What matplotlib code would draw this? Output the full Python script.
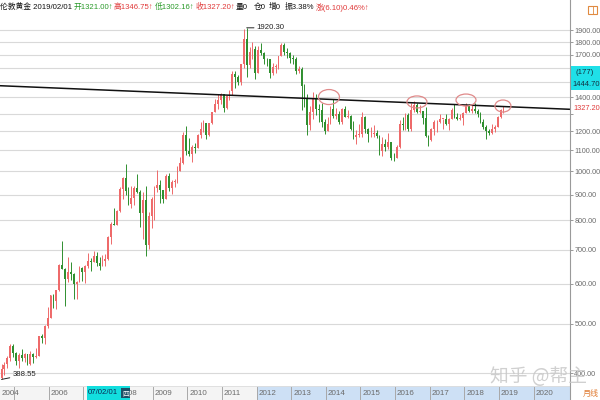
import matplotlib
matplotlib.use("Agg")
import matplotlib.pyplot as plt
from matplotlib.patches import Rectangle, Ellipse
from matplotlib.lines import Line2D
from matplotlib.ticker import NullLocator, FixedLocator, FixedFormatter
import numpy as np

# ---------------- data: London gold monthly candles, 2004-08 .. 2019-02 ----------------
start_year, start_month = 2004, 8

opens = [
    391, 408, 416, 428, 452,
    438, 422, 434, 428, 436, 417, 437, 430, 433, 473, 470, 495,
    513, 569, 556, 582, 654, 643, 613, 632, 626, 599, 604, 646,
    632, 650, 665, 662, 681, 659, 650, 666, 672, 743, 789, 783,
    834, 923, 971, 916, 864, 886, 926, 912, 829, 880, 717, 815,
    882, 928, 942, 917, 883, 979, 927, 954, 955, 1001, 1040, 1182,
    1096, 1081, 1118, 1113, 1180, 1214, 1244, 1181, 1248, 1307, 1357, 1386,
    1421, 1333, 1410, 1439, 1556, 1536, 1500, 1628, 1826, 1620, 1722, 1746,
    1565, 1738, 1710, 1669, 1664, 1561, 1604, 1614, 1687, 1773, 1719, 1714,
    1675, 1664, 1578, 1595, 1472, 1393, 1234, 1312, 1396, 1327, 1323, 1253,
    1202, 1240, 1326, 1284, 1296, 1250, 1327, 1282, 1287, 1210, 1171, 1182,
    1184, 1283, 1213, 1183, 1183, 1190, 1172, 1095, 1132, 1115, 1142, 1065,
    1061, 1118, 1238, 1233, 1293, 1215, 1322, 1351, 1309, 1316, 1277, 1173,
    1152, 1211, 1249, 1249, 1268, 1269, 1242, 1269, 1322, 1280, 1271, 1275,
    1303, 1345, 1318, 1325, 1316, 1299, 1253, 1224, 1201, 1192, 1215, 1222,
    1282, 1321.00,
]
highs = [
    416, 420, 432, 456, 456,
    441, 438, 447, 438, 437, 442, 439, 448, 474, 478, 497, 541,
    570, 573, 584, 655, 730, 644, 678, 663, 630, 607, 650, 648,
    654, 690, 675, 695, 692, 677, 684, 686, 745, 794, 845, 838,
    933, 975, 1033, 930, 936, 937, 988, 917, 912, 935, 833, 889,
    937, 1006, 962, 920, 986, 991, 961, 967, 1025, 1070, 1195, 1227,
    1162, 1127, 1140, 1183, 1249, 1265, 1245, 1248, 1307, 1388, 1424, 1431,
    1424, 1414, 1447, 1576, 1577, 1553, 1632, 1913, 1920.30, 1761, 1803, 1764,
    1764, 1791, 1718, 1677, 1668, 1640, 1627, 1692, 1790, 1796, 1755, 1723,
    1694, 1681, 1617, 1605, 1488, 1424, 1348, 1434, 1424, 1361, 1362, 1267,
    1280, 1345, 1392, 1331, 1315, 1332, 1345, 1323, 1290, 1255, 1208, 1239,
    1307, 1284, 1219, 1224, 1232, 1205, 1180, 1170, 1156, 1191, 1143, 1088,
    1127, 1263, 1283, 1304, 1304, 1362, 1375, 1367, 1352, 1318, 1338, 1180,
    1220, 1264, 1262, 1296, 1270, 1296, 1272, 1331, 1357, 1306, 1299, 1309,
    1366, 1361, 1356, 1365, 1326, 1309, 1266, 1236, 1214, 1243, 1237, 1285,
    1326, 1346.75,
]
lows = [
    388.55, 397, 410, 422, 430,
    415, 410, 423, 421, 414, 414, 418, 428, 432, 458, 456, 490,
    513, 538, 535, 580, 641, 542, 605, 610, 561, 560, 604, 609,
    603, 645, 636, 661, 651, 638, 650, 650, 668, 720, 782, 782,
    832, 882, 900, 860, 848, 860, 908, 775, 735, 681, 702, 772,
    801, 910, 866, 865, 882, 913, 904, 931, 950, 1000, 1035, 1076,
    1074, 1044, 1086, 1111, 1164, 1195, 1157, 1177, 1240, 1307, 1330, 1361,
    1309, 1328, 1381, 1418, 1462, 1478, 1480, 1600, 1535, 1600, 1670, 1523,
    1563, 1696, 1627, 1614, 1527, 1550, 1564, 1590, 1687, 1697, 1673, 1635,
    1626, 1555, 1562, 1321, 1338, 1180, 1207, 1271, 1291, 1251, 1221, 1187,
    1200, 1238, 1277, 1268, 1240, 1240, 1281, 1273, 1206, 1161, 1131, 1170,
    1167, 1191, 1142, 1170, 1170, 1162, 1077, 1072, 1098, 1107, 1052, 1046,
    1061, 1111, 1208, 1206, 1200, 1199, 1310, 1301, 1303, 1241, 1171, 1123,
    1146, 1180, 1195, 1244, 1214, 1237, 1205, 1266, 1272, 1261, 1264, 1236,
    1302, 1307, 1303, 1302, 1282, 1245, 1211, 1160, 1180, 1183, 1196, 1221,
    1275, 1302.16,
]
closes = [
    408, 415, 428, 452, 438,
    422, 434, 428, 436, 417, 437, 430, 433, 473, 470, 495, 513,
    569, 556, 582, 654, 643, 613, 632, 626, 599, 604, 646, 632,
    650, 665, 662, 681, 659, 650, 666, 672, 743, 789, 783, 834,
    923, 971, 916, 864, 886, 926, 912, 829, 880, 717, 815, 882,
    928, 942, 917, 883, 979, 927, 954, 955, 1001, 1040, 1182, 1096,
    1081, 1118, 1113, 1180, 1214, 1244, 1181, 1248, 1307, 1357, 1386, 1421,
    1333, 1410, 1439, 1556, 1536, 1500, 1628, 1826, 1620, 1722, 1746, 1565,
    1738, 1710, 1669, 1664, 1561, 1604, 1614, 1687, 1773, 1719, 1714, 1675,
    1664, 1578, 1595, 1472, 1393, 1234, 1312, 1396, 1327, 1323, 1253, 1202,
    1240, 1326, 1284, 1296, 1250, 1327, 1282, 1287, 1210, 1171, 1182, 1184,
    1283, 1213, 1183, 1183, 1190, 1172, 1095, 1132, 1115, 1142, 1065, 1061,
    1118, 1238, 1233, 1293, 1215, 1322, 1351, 1309, 1316, 1277, 1173, 1152,
    1211, 1249, 1249, 1268, 1269, 1242, 1269, 1322, 1280, 1271, 1275, 1303,
    1345, 1318, 1325, 1316, 1299, 1253, 1224, 1201, 1192, 1215, 1222, 1282,
    1321, 1327.20,
]

price_levels = [400, 500, 600, 700, 800, 900, 1000, 1100, 1200, 1300,
                1400, 1500, 1600, 1700, 1800, 1900]
hidden_levels = [1300, 1500, 1600]   # covered by the right-side price boxes
year_labels = ["2004", "2006", "2008", "2009", "2010", "2011", "2012",
               "2013", "2014", "2015", "2016", "2017", "2018", "2019", "2020"]
separator_years = list(range(2005, 2021))

# trend line (month index, price) and touch circles
trend_months = [-0.52, 197.05]
trend_prices = [1476, 1326]
circle_months = [113.5, 144.0, 161.0, 173.8]
circle_prices = [1402, 1371, 1383, 1346]

title_parts = [
    ("伦敦黄金 2019/02/01", "#111111"),
    ("开1321.00↑", "#2a9a2a"),
    ("高1346.75↑", "#e03a3a"),
    ("低1302.16↑", "#2a9a2a"),
    ("收1327.20↑", "#e03a3a"),
    ("量0", "#111111"),
    ("仓0", "#111111"),
    ("增0", "#111111"),
    ("振3.38%", "#111111"),
    ("涨(6.10)0.46%↑", "#e03a3a"),
]
title_x = [0, 74, 114, 155, 196, 236, 254, 269, 285, 316]

# ---------------- figure ----------------
W, H = 600, 400
FONT = ["Liberation Sans", "Noto Sans CJK SC", "DejaVu Sans"]
CJK = ["Noto Sans CJK SC", "DejaVu Sans"]
RED = "#ee6a6a"
GREEN = "#2f8f2f"

def fx(x):
    return x / W

def fy(y):
    return 1 - y / H

fig = plt.figure(figsize=(6, 4), dpi=100)
fig.patch.set_facecolor("white")

ax = fig.add_axes([0, fy(385), fx(570), (385 - 17) / H])
ax.set_yscale("log")
ax.set_xlim(-0.52, 197.05)
ax.set_ylim(378.8, 2017)
for s in ax.spines.values():
    s.set_visible(False)
ax.set_xticks([])
ax.yaxis.tick_right()
ax.yaxis.set_major_locator(FixedLocator(price_levels))
ax.yaxis.set_major_formatter(FixedFormatter(
    ["" if v in hidden_levels else f"{v:.2f}" for v in price_levels]))
ax.yaxis.set_minor_locator(NullLocator())
ax.tick_params(axis="y", length=2.5, width=0.7, color="#999999", pad=0.6,
               labelsize=5.2, labelcolor="#6a6a6a")
for lab in ax.get_yticklabels():
    lab.set_family(FONT)
ax.yaxis.grid(True, color="#d9d9d9", lw=0.8)
ax.set_axisbelow(True)

o = np.array(opens, dtype=float)
h = np.array(highs, dtype=float)
l = np.array(lows, dtype=float)
c = np.array(closes, dtype=float)
x = np.arange(len(c))
up = c >= o
cols = np.where(up, RED, GREEN)
ax.vlines(x, l, h, colors=cols, lw=0.7, zorder=2)
bottoms = np.minimum(o, c)
heights = np.maximum(np.abs(c - o), bottoms * 0.003)
ax.bar(x, heights, bottom=bottoms, width=0.62, color=cols, linewidth=0, zorder=3)

ax.plot(trend_months, trend_prices, color="#111111", lw=1.1, zorder=4)

def d2a(xd, yd):
    return ax.transAxes.inverted().transform(ax.transData.transform((xd, yd)))

circle_sizes = [(21, 15), (20, 12), (20, 12), (16, 12)]
for cm, cp, (w, hh) in zip(circle_months, circle_prices, circle_sizes):
    cx, cy = d2a(cm, cp)
    ax.add_patch(Ellipse((cx, cy), w / 570, hh / 368, transform=ax.transAxes,
                         fill=False, edgecolor="#e08a8a", lw=0.9, zorder=5))

imax = int(np.argmax(h))
ax.annotate(f"{h[imax]:.2f}", xy=(imax, h[imax]), xytext=(10, 0),
            textcoords="offset pixels", va="center", ha="left", fontsize=5.6,
            family=FONT, color="#222222",
            arrowprops=dict(arrowstyle="-", color="#222222", lw=0.7,
                            shrinkA=0, shrinkB=0))
imin = int(np.argmin(l))
ax.annotate(f"{l[imin]:.2f}", xy=(imin, l[imin]), xytext=(11, 1),
            textcoords="offset pixels", va="bottom", ha="left", fontsize=5.6,
            family=FONT, color="#222222",
            arrowprops=dict(arrowstyle="-", color="#222222", lw=0.7,
                            shrinkA=0, shrinkB=0))

# ---------------- date bar ----------------
axd = fig.add_axes([0, 0, fx(570), 14 / H])
axd.set_xlim(ax.get_xlim())
axd.set_ylim(0, 1)
axd.set_facecolor("#f4f4f4")
for s in axd.spines.values():
    s.set_visible(False)
axd.set_xticks([])
axd.set_yticks([])

def month_index(year):
    return (year - start_year) * 12 + (1 - start_month)

axd.axvspan(month_index(2012) - 0.6, 197.05, color="#cde0f5", lw=0)
for yr in separator_years:
    axd.axvline(month_index(yr) - 0.6, ymin=0.1, ymax=0.9, color="#a8a8a8", lw=0.7)
for lab in year_labels:
    xi = 0 if lab == "2004" else month_index(int(lab))
    axd.text(xi + 0.1, 0.45, lab, ha="left", va="center", fontsize=5.8,
             family=FONT, color="#6a6a6a")

fig.add_artist(Line2D([0, fx(570)], [fy(386), fy(386)], transform=fig.transFigure,
                      color="#dddddd", lw=0.6))

# cursor box on date bar
fig.add_artist(Rectangle((fx(87), fy(400)), fx(43), 14 / H, transform=fig.transFigure,
                         facecolor="#12dede", edgecolor="none", zorder=2))
fig.text(fx(87.5), fy(393), "07/02/01", ha="left", va="center", fontsize=5.6,
         family=FONT, color="#0a2a55", zorder=3)
fig.text(fx(125.5), fy(393), "四", ha="center", va="center", fontsize=5.0,
         family=CJK, color="white", zorder=3,
         bbox=dict(boxstyle="square,pad=0.1", facecolor="#1d4f66", edgecolor="none"))
fig.text(fx(583), fy(393), "月线", ha="left", va="center", fontsize=5.8,
         family=CJK, color="#e07a30")

# ---------------- right side boxes ----------------
fig.add_artist(Line2D([fx(570), fx(570)], [0, 1], transform=fig.transFigure,
                      color="#9a9a9a", lw=0.8, zorder=3))
fig.add_artist(Rectangle((fx(570.5), fy(90)), fx(29.5), 24 / H, transform=fig.transFigure,
                         facecolor="#1fe0e8", edgecolor="none", zorder=2))
fig.text(fx(585), fy(72), "(177)", ha="center", va="center", fontsize=5.6,
         family=FONT, color="#123040", zorder=3)
fig.text(fx(572), fy(84), "1444.70", ha="left", va="center", fontsize=5.4,
         family=FONT, color="#123040", zorder=3)
fig.text(fx(573), fy(109), f"{c[-1]:.2f}", ha="left", va="center", fontsize=5.3,
         family=FONT, color="#e03a3a", zorder=3,
         bbox=dict(boxstyle="square,pad=0.15", facecolor="white", edgecolor="none"))

# small icon top right
fig.add_artist(Rectangle((fx(588), fy(14)), fx(9), 8 / H, transform=fig.transFigure,
                         facecolor="none", edgecolor="#e08a40", lw=0.8))
fig.add_artist(Line2D([fx(592.5), fx(592.5)], [fy(14), fy(6)], transform=fig.transFigure,
                      color="#e08a40", lw=0.6))

# ---------------- title ----------------
for (txt, col), tx in zip(title_parts, title_x):
    fig.text(fx(tx), fy(7), txt, ha="left", va="center", fontsize=5.6,
             family=FONT, color=col)

# watermark
fig.text(fx(490), fy(376), "知乎 @帮主", ha="left", va="center", fontsize=13.5,
         family=CJK, color="#c8c8c8", alpha=0.85, zorder=5)

fig.savefig("out.png", dpi=100, facecolor="white")
